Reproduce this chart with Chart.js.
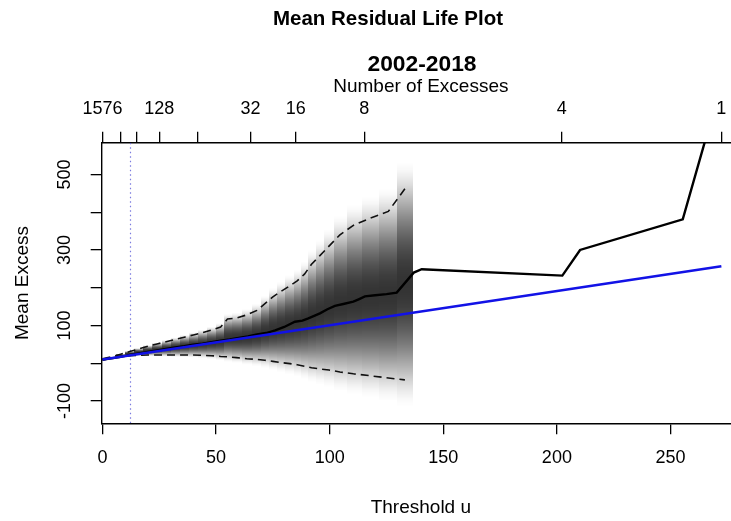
<!DOCTYPE html>
<html>
<head>
<meta charset="utf-8">
<script src="https://cdn.jsdelivr.net/npm/chart.js@4/dist/chart.umd.min.js"></script>
<style>
  html, body { margin: 0; padding: 0; overflow: hidden; background: #fff; }
  canvas { display: block; }
</style>
</head>
<body>
<canvas id="mrl" width="745" height="521"></canvas>
<script>
// Titles and axis names
const mainTitle = 'Mean Residual Life Plot';
const periodTitle = '2002-2018';
const xTitle = 'Threshold u';
const yTitle = 'Mean Excess';
const topTitle = 'Number of Excesses';

// Empirical mean excess over threshold u
const meanU = [0, 4, 8, 12, 16, 20, 24, 28, 32, 36, 40, 44, 48, 52, 56, 60, 64, 68, 72, 76, 80,
  84.7, 88, 90.6, 95.7, 99, 102.3, 106, 110.4, 113, 115.5, 120, 125, 129.5, 137, 140.5,
  202.4, 210.2, 255.4, 272.4];
const meanExcess = [10, 13, 17, 22, 26, 30, 34, 38, 42, 45, 49, 52, 56, 60, 63, 67, 71, 76, 80, 87, 96,
  110, 113, 119, 132, 143, 152, 157, 163, 170, 177, 180, 183, 187, 240, 249,
  232, 300, 381, 740];

// 95% confidence limits of the mean excess
const ciU = [0, 4, 8, 12, 16, 20, 24, 28, 32, 36, 40, 44, 48, 52, 55, 59, 63.5, 68, 71.5, 75, 78.5,
  82.5, 85.7, 88.9, 92, 95.7, 99.7, 104.5, 110.4, 117.7, 125.8, 133.1];
const ciUpper = [12, 17, 24, 31, 38, 45, 51, 57, 63, 69, 75, 81, 88, 96, 117, 120, 128, 140, 158, 176, 190,
  205, 218, 236, 262, 285, 310, 340, 365, 384, 402, 462];
const ciLower = [8, 14, 18, 20, 21, 22, 22, 22, 22, 22, 22, 21, 20, 18, 17, 15, 12, 10, 8, 5, 2,
  -1, -4, -8, -12, -15, -18, -23, -28, -33, -39, -44];

// Mean excess implied by the fitted GPD
const fitU = [0, 272.4];
const fitME = [10, 257];

// Chosen threshold
const chosenU = 11.9;

// Axis ticks
const xTicks = [0, 50, 100, 150, 200, 250];
const yTicks = [-100, 0, 100, 200, 300, 400, 500];
const yTickLabels = ['-100', '', '100', '', '300', '', '500'];
const excessTickU = [0, 8, 14.9, 25, 42, 65.1, 85.1, 115.2, 202.1, 272.4];
const excessTickLabels = ['1576', '', '', '128', '', '32', '16', '8', '4', '1'];

const FONT = '"Liberation Sans", Arial, Helvetica, sans-serif';
const pts = (xs, ys) => xs.map((x, i) => ({ x, y: ys[i] }));

// Grey sampling-density shading: one vertical strip per threshold
const densityShading = {
  id: 'densityShading',
  beforeDatasetsDraw(chart) {
    const { ctx, chartArea: a, scales: { x, y } } = chart;
    ctx.save();
    ctx.beginPath();
    ctx.rect(a.left, a.top, a.right - a.left, a.bottom - a.top);
    ctx.clip();
    const n = ciU.length;
    const ext = 2.5;
    for (let i = 0; i < n; i++) {
      const lo = i === 0 ? ciU[0] - (ciU[1] - ciU[0]) / 2 : (ciU[i - 1] + ciU[i]) / 2;
      const hi = i === n - 1 ? ciU[i] + (ciU[i] - ciU[i - 1]) / 2 : (ciU[i] + ciU[i + 1]) / 2;
      const c = (ciLower[i] + ciUpper[i]) / 2;
      const se = Math.max((ciUpper[i] - ciLower[i]) / (2 * 1.96), 1);
      const yT = y.getPixelForValue(c + ext * se);
      const yB = y.getPixelForValue(c - ext * se);
      const g = ctx.createLinearGradient(0, yT, 0, yB);
      for (let k = 0; k <= 32; k++) {
        const t = k / 32;
        const z = (-ext + 2 * ext * t) / ext;
        const al = 0.8 * Math.pow(Math.max(0, 1 - z * z), 1.6);
        g.addColorStop(t, 'rgba(0,0,0,' + al.toFixed(3) + ')');
      }
      ctx.fillStyle = g;
      const xl = Math.round(x.getPixelForValue(lo));
      const xr = Math.round(x.getPixelForValue(hi));
      ctx.fillRect(xl, yT, xr - xl, yB - yT);
    }
    // dotted marker at the chosen threshold
    const px = Math.round(x.getPixelForValue(chosenU)) + 0.5;
    ctx.strokeStyle = 'rgba(90,90,215,0.8)';
    ctx.lineWidth = 1.2;
    ctx.setLineDash([1.5, 3]);
    ctx.beginPath();
    ctx.moveTo(px, a.top);
    ctx.lineTo(px, a.bottom);
    ctx.stroke();
    ctx.restore();
  }
};

// Main title and period heading
const headings = {
  id: 'headings',
  afterDraw(chart) {
    const { ctx } = chart;
    ctx.save();
    ctx.fillStyle = '#000';
    ctx.textAlign = 'center';
    ctx.textBaseline = 'middle';
    ctx.font = 'bold 20.5px ' + FONT;
    ctx.fillText(mainTitle, 388, 19);
    ctx.font = 'bold 22.8px ' + FONT;
    ctx.fillText(periodTitle, 422, 65);
    ctx.restore();
  }
};

const axisGrid = { drawOnChartArea: false, drawTicks: true, tickLength: 11, color: '#000', lineWidth: 1.3 };
const axisBorder = { display: true, color: '#000', width: 1.4 };
const tickFont = { family: FONT, size: 18 };
const titleFont = { family: FONT, size: 19 };

new Chart(document.getElementById('mrl'), {
  type: 'line',
  data: {
    datasets: [
      { data: pts(fitU, fitME), borderColor: '#1212e6', borderWidth: 2.6, pointRadius: 0 },
      { data: pts(meanU, meanExcess), borderColor: '#000', borderWidth: 2.4, pointRadius: 0 },
      { data: pts(ciU, ciUpper), borderColor: '#111', borderWidth: 1.6, borderDash: [8, 5], pointRadius: 0 },
      { data: pts(ciU, ciLower), borderColor: '#111', borderWidth: 1.6, borderDash: [8, 5], pointRadius: 0 }
    ]
  },
  options: {
    responsive: false,
    animation: false,
    devicePixelRatio: 1,
    layout: { padding: { left: 0, right: 5, top: 0, bottom: 0 } },
    plugins: { legend: { display: false }, tooltip: { enabled: false }, title: { display: false } },
    scales: {
      x: {
        type: 'linear', position: 'bottom', min: -0.35, max: 280.6, bounds: 'data',
        afterBuildTicks: s => { s.ticks = xTicks.map(v => ({ value: v })); },
        afterFit: s => { s.height = 97.7; },
        grid: axisGrid, border: axisBorder,
        ticks: { autoSkip: false, maxRotation: 0, padding: 12.9, color: '#000', font: tickFont },
        title: { display: true, text: xTitle, color: '#000', font: titleFont, padding: { top: 0, bottom: 1.6 } }
      },
      x2: {
        type: 'linear', position: 'top', min: -0.35, max: 280.6, bounds: 'data',
        afterBuildTicks: s => { s.ticks = excessTickU.map(v => ({ value: v })); },
        afterFit: s => { s.height = 142.7; },
        grid: axisGrid, border: axisBorder,
        ticks: { autoSkip: false, maxRotation: 0, padding: 11.9, color: '#000', font: tickFont,
                 callback: (v, i) => excessTickLabels[i] },
        title: { display: true, text: topTitle, color: '#000', font: titleFont, padding: { top: 75.8, bottom: 0 } }
      },
      y: {
        type: 'linear', position: 'left', min: -159, max: 584, bounds: 'data',
        afterBuildTicks: s => { s.ticks = yTicks.map(v => ({ value: v })); },
        afterFit: s => { s.width = 101.7; },
        grid: axisGrid, border: axisBorder,
        ticks: { autoSkip: false, minRotation: 90, maxRotation: 90, crossAlign: 'center', padding: 7.2,
                 color: '#000', font: tickFont,
                 callback: (v, i) => yTickLabels[i] },
        title: { display: true, text: yTitle, color: '#000', font: titleFont, padding: { top: 11.2, bottom: 0 } }
      }
    }
  },
  plugins: [densityShading, headings]
});
</script>
</body>
</html>
